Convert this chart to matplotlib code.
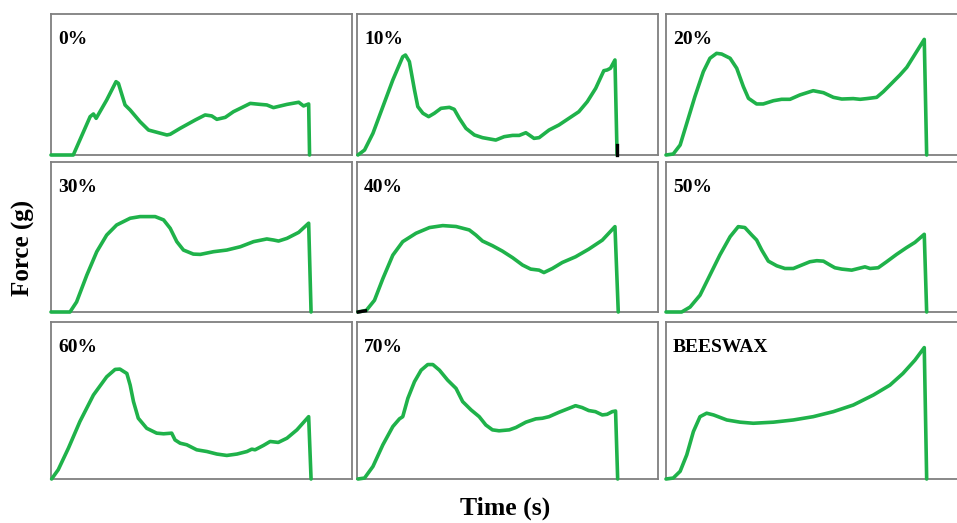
import numpy as np
import matplotlib.pyplot as plt

# time and force on a 0-100 scale per panel
labels = ['0%', '10%', '20%', '30%', '40%', '50%', '60%', '70%', 'BEESWAX']

t0 = [0, 7.4, 13.0, 14.1, 15.0, 18.5, 21.6, 22.4, 24.6, 26.3, 29.6, 32.4, 38.5, 39.6, 42.9, 47.9,
      51.2, 53.4, 55.1, 57.9, 60.6, 62.9, 66.2, 69.5, 71.7, 73.9, 78.4, 82.3, 83.9, 85.6, 85.9]
f0 = [0, 0, 27.2, 29.1, 26.0, 39.0, 52.0, 50.8, 35.5, 31.9, 23.6, 17.7, 14.2, 14.7, 18.9, 24.8,
      28.4, 27.7, 25.3, 26.7, 30.7, 33.1, 36.6, 35.9, 35.5, 33.6, 35.9, 37.4, 34.8, 36.2, 0]

t10 = [0.3, 2.5, 5.3, 8.6, 11.9, 15.2, 16.1, 17.4, 19.1, 20.2, 21.9, 23.8, 25.7, 27.9, 30.7, 32.3,
       34.0, 36.2, 39.0, 41.7, 46.1, 48.9, 51.7, 53.9, 56.1, 57.2, 58.8, 60.5, 63.8, 67.1, 70.4,
       73.7, 76.5, 79.3, 82.0, 83.1, 84.2, 85.7, 86.4]
f10 = [0, 3.5, 15.4, 34.3, 53.2, 69.7, 70.9, 66.2, 46.1, 34.3, 29.6, 27.2, 29.6, 33.1, 33.8, 32.4,
       26.0, 18.9, 14.2, 12.3, 10.6, 13.0, 13.9, 13.9, 15.8, 14.2, 11.8, 12.3, 17.7, 21.3, 26.0,
       30.7, 37.8, 47.3, 59.8, 60.3, 61.5, 67.4, 0]

t20 = [0, 2.4, 4.7, 6.9, 9.6, 12.4, 14.6, 16.8, 18.5, 21.3, 23.5, 25.7, 27.4, 30.1, 32.3, 35.7,
       38.4, 41.2, 44.5, 48.9, 52.3, 55.6, 58.4, 62.2, 64.5, 66.7, 70.0, 72.2, 74.4, 77.7, 80.0,
       82.2, 85.8, 86.6]
f20 = [0, 0.7, 7.1, 22.5, 41.4, 59.1, 68.6, 72.1, 71.6, 68.6, 61.5, 48.5, 40.2, 36.2, 36.2, 38.5,
       39.5, 39.5, 42.6, 45.6, 44.2, 40.9, 39.7, 40.0, 39.5, 40.0, 40.9, 44.9, 49.6, 56.7, 62.2,
       69.7, 82.0, 0]

t30 = [0, 6.3, 8.5, 11.9, 15.2, 18.5, 21.8, 26.3, 29.6, 34.6, 37.4, 39.6, 41.8, 44.0, 47.3, 49.6,
       54.0, 58.4, 62.9, 67.3, 71.7, 73.9, 75.6, 78.4, 82.3, 85.6, 86.4]
f30 = [0, 0, 6.7, 24.6, 40.2, 51.3, 58.0, 62.5, 63.6, 63.6, 61.4, 55.8, 46.9, 41.3, 38.6, 38.4,
       40.2, 41.3, 43.5, 46.9, 48.7, 48.0, 47.3, 49.1, 53.1, 59.2, 0]

t40 = [0.3, 3.1, 5.8, 8.6, 11.9, 15.2, 19.6, 24.1, 28.5, 32.9, 37.3, 39.5, 41.7, 45.0, 48.3, 51.7,
       55.0, 57.7, 60.5, 62.1, 64.9, 68.2, 72.6, 77.0, 81.5, 85.7, 86.8]
f40 = [0, 1.1, 7.8, 22.3, 37.9, 46.9, 52.5, 56.3, 57.6, 57.0, 54.7, 51.3, 47.3, 44.2, 40.6, 36.2,
       31.3, 28.6, 27.9, 26.3, 29.0, 33.0, 36.8, 41.9, 47.9, 56.9, 0]

t50 = [0, 5.2, 8.0, 11.3, 14.6, 17.9, 21.3, 24.0, 26.2, 28.5, 30.1, 31.8, 34.0, 36.8, 39.5, 42.3,
       44.5, 47.8, 50.1, 52.3, 54.5, 56.1, 58.4, 61.7, 63.9, 66.1, 67.8, 70.5, 73.3, 76.6, 79.9,
       82.7, 85.8, 86.6]
f50 = [0, 0, 3.3, 11.2, 24.6, 38.0, 50.2, 56.9, 56.3, 51.3, 48.0, 41.3, 33.9, 30.8, 29.0, 29.0,
       30.8, 33.5, 34.2, 33.9, 31.3, 29.5, 28.6, 27.9, 29.0, 30.1, 29.0, 29.5, 33.5, 38.4, 42.9,
       46.4, 51.8, 0]

t60 = [0.2, 2.4, 5.8, 9.6, 14.1, 18.5, 21.3, 22.9, 25.2, 26.3, 27.4, 29.0, 31.8, 35.1, 37.4, 40.1,
       41.2, 42.9, 45.1, 48.4, 51.8, 55.1, 58.4, 61.8, 65.1, 66.7, 67.8, 70.6, 72.8, 75.5, 78.4,
       81.7, 85.6, 86.4]
f60 = [0, 5.9, 19.7, 36.6, 53.5, 65.1, 69.8, 70.0, 67.2, 59.8, 49.3, 38.7, 32.3, 29.2, 28.8, 29.2,
       24.9, 22.8, 21.8, 18.6, 17.5, 15.9, 15.0, 15.9, 17.5, 19.0, 18.6, 21.4, 23.9, 23.3, 26.0,
       31.3, 39.7, 0]

t70 = [0.3, 2.5, 5.3, 8.6, 11.9, 14.1, 15.2, 16.9, 19.1, 21.3, 23.5, 25.2, 27.4, 30.1, 32.9, 35.1,
       37.9, 40.6, 42.8, 45.0, 47.2, 50.6, 52.8, 56.1, 59.4, 61.6, 63.8, 67.1, 70.4, 72.6, 74.8,
       77.0, 79.2, 81.5, 83.1, 84.8, 85.9, 86.6]
f70 = [0, 0.6, 8.0, 21.8, 33.4, 38.3, 39.7, 51.4, 62.0, 69.3, 72.9, 72.9, 69.3, 63.0, 57.7, 49.3,
       44.0, 39.7, 34.4, 31.3, 30.7, 31.3, 32.8, 36.2, 38.3, 38.7, 39.7, 42.5, 45.0, 46.7, 45.5,
       43.6, 42.9, 40.8, 41.2, 42.9, 43.3, 0]

tbw = [0, 2.4, 4.7, 6.9, 9.1, 11.3, 13.5, 15.8, 20.2, 24.6, 29.0, 35.7, 42.3, 48.9, 55.6, 62.2,
       68.9, 74.4, 78.7, 82.7, 85.8, 86.6]
fbw = [0, 0.6, 4.9, 15.4, 30.2, 39.7, 41.9, 40.8, 37.6, 36.2, 35.5, 36.2, 37.6, 39.7, 42.9, 47.1,
       53.5, 59.8, 67.2, 75.7, 83.7, 0]

times = [t0, t10, t20, t30, t40, t50, t60, t70, tbw]
forces = [f0, f10, f20, f30, f40, f50, f60, f70, fbw]

W, H = 957, 523
fig = plt.figure(figsize=(W / 100, H / 100), dpi=100)

col_left = [51, 357, 666]
rows = [(14, 155), (162, 312), (322, 479)]
pw = 301
green = '#1fb24a'

for i in range(9):
    r, c = divmod(i, 3)
    top, bot = rows[r]
    ax = fig.add_axes([col_left[c] / W, 1 - bot / H, pw / W, (bot - top) / H])
    ax.plot(times[i], forces[i], color=green, lw=2.6, solid_joinstyle='round',
            solid_capstyle='round', clip_on=False, zorder=5)
    if i == 1:
        ax.plot([86.4, 86.4], [0, 7], color='black', lw=2.4, zorder=6, clip_on=False)
    if i == 4:
        ax.plot([0.4, 2.8], [0, 0.8], color='black', lw=2.4, zorder=6, clip_on=False)
    ax.set_xlim(0, 100)
    ax.set_ylim(0, 100)
    ax.set_xticks([])
    ax.set_yticks([])
    for s in ax.spines.values():
        s.set_color('#7f7f7f')
        s.set_linewidth(1.3)
    ax.text(7 / pw, 1 - 30 / (bot - top), labels[i], transform=ax.transAxes,
            fontsize=14, fontweight='bold', family='Liberation Serif', va='baseline', ha='left')

fig.text(505 / W, 1 - 508 / H, 'Time (s)', fontsize=18.5, fontweight='bold',
         family='Liberation Serif', ha='center', va='center')
fig.text(23 / W, 1 - 248 / H, 'Force (g)', fontsize=18, fontweight='bold',
         family='Liberation Serif', ha='center', va='center', rotation=90)

fig.savefig('out.png', dpi=100)
